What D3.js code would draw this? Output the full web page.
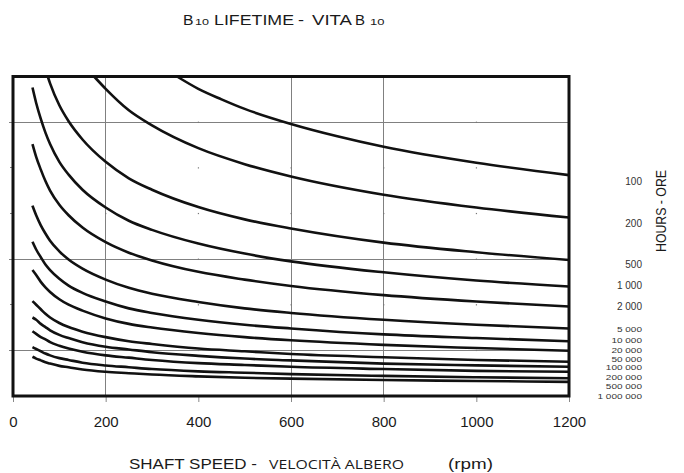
<!DOCTYPE html>
<head>
<meta charset="utf-8">
<title>B10 lifetime</title>
<script src="https://d3js.org/d3.v7.min.js"></script>
<style>
body {
	margin: 0;
	background: #fff;
}
text {
	font-family: "Liberation Sans", Arial, sans-serif;
	fill: #1a1a1a;
}
.grid line {
	stroke: #808080;
	stroke-width: 1;
	shape-rendering: crispEdges;
}
.line {
	fill: none;
	stroke: #111;
	stroke-width: 2.6px;
}
.frame {
	fill: none;
	stroke: #111;
	stroke-width: 3px;
}
.x-axis path {
	display: none;
}
.x-axis line {
	stroke: #888;
}
</style>
</head>
<body>
<svg id="chart" width="684" height="473"></svg>

<script>
// x ticks (rpm) and y grid levels (load, unlabelled in the original)
var speedTicks = [0, 200, 400, 600, 800, 1000, 1200];
var solidSpeeds = [200, 600, 800];
var loadLevels = [1, 2, 3, 4, 5, 6];
var solidLoads = [1, 3, 6];

// curve labels on the right (hours) and where they sit
var hoursLabels = ["100", "200", "500", "1 000", "2 000", "5 000", "10 000", "20 000",
	"50 000", "100 000", "200 000", "500 000", "1 000 000"];
var labelLoad = [4.71, 3.79, 2.88, 2.42, 1.95, 1.45, 1.21, 1.01, 0.80, 0.63, 0.41, 0.22, 0.0];

// the three upper curves leave through the top of the frame
var speeds100 = [354, 400, 450, 500, 600, 700, 800, 1000, 1200];
var load100 = [7.0, 6.73, 6.50, 6.29, 5.96, 5.69, 5.46, 5.11, 4.84];
var speeds200 = [175, 200, 250, 300, 400, 500, 600, 800, 1000, 1200];
var load200 = [7.0, 6.73, 6.26, 5.93, 5.43, 5.08, 4.81, 4.41, 4.13, 3.91];
var speeds500 = [75, 80, 100, 120, 150, 200, 250, 300, 400, 500, 600, 800, 1000, 1200];
var load500 = [7.0, 6.85, 6.37, 6.02, 5.62, 5.13, 4.77, 4.52, 4.14, 3.87, 3.67, 3.36, 3.15, 2.98];

// the others all start at the same low speed
var speeds = [42, 50, 60, 70, 80, 100, 120, 150, 200, 250, 300, 400, 500, 600, 800, 1000, 1200];
var load1000 = [6.76, 6.42, 6.07, 5.77, 5.52, 5.13, 4.85, 4.52, 4.13, 3.84, 3.64, 3.34, 3.12, 2.95, 2.71, 2.53, 2.40];
var load2000 = [5.52, 5.24, 4.96, 4.71, 4.50, 4.19, 3.96, 3.69, 3.37, 3.14, 2.97, 2.72, 2.55, 2.41, 2.21, 2.07, 1.96];
var load5000 = [4.17, 3.96, 3.74, 3.56, 3.40, 3.17, 2.99, 2.79, 2.55, 2.37, 2.24, 2.06, 1.92, 1.82, 1.67, 1.56, 1.48];
var load10000 = [3.38, 3.21, 3.04, 2.88, 2.76, 2.57, 2.42, 2.26, 2.07, 1.92, 1.82, 1.67, 1.56, 1.48, 1.35, 1.27, 1.20];
var load20000 = [2.76, 2.65, 2.50, 2.38, 2.28, 2.12, 2.00, 1.87, 1.70, 1.58, 1.50, 1.38, 1.29, 1.22, 1.12, 1.05, 0.99];
var load50000 = [2.08, 2.00, 1.90, 1.80, 1.72, 1.60, 1.51, 1.41, 1.29, 1.20, 1.14, 1.04, 0.98, 0.92, 0.85, 0.79, 0.75];
var load100000 = [1.72, 1.67, 1.58, 1.51, 1.44, 1.34, 1.27, 1.18, 1.08, 1.02, 0.96, 0.88, 0.82, 0.78, 0.71, 0.67, 0.64];
var load200000 = [1.42, 1.36, 1.29, 1.24, 1.18, 1.10, 1.04, 0.97, 0.89, 0.84, 0.79, 0.72, 0.68, 0.64, 0.59, 0.55, 0.53];
var load500000 = [1.07, 1.03, 0.98, 0.93, 0.89, 0.83, 0.79, 0.73, 0.67, 0.63, 0.59, 0.54, 0.51, 0.48, 0.44, 0.41, 0.39];
var load1000000 = [0.86, 0.82, 0.78, 0.74, 0.71, 0.66, 0.63, 0.58, 0.53, 0.50, 0.47, 0.43, 0.40, 0.38, 0.35, 0.33, 0.31];

var curves = [
	[speeds100, load100], [speeds200, load200], [speeds500, load500],
	[speeds, load1000], [speeds, load2000], [speeds, load5000], [speeds, load10000],
	[speeds, load20000], [speeds, load50000], [speeds, load100000],
	[speeds, load200000], [speeds, load500000], [speeds, load1000000]
];

var svg = d3.select("#chart"),
	margin = {top: 76.5, right: 115, bottom: 77, left: 13},
	width = +svg.attr("width") - margin.left - margin.right,
	height = +svg.attr("height") - margin.top - margin.bottom;

var x = d3.scaleLinear()
	.domain([0, 1200])
	.range([margin.left, margin.left + width]);

var y = d3.scaleLinear()
	.domain([0, 7])
	.range([margin.top + height, margin.top]);

var line = d3.line()
	.x(d => x(d[0]))
	.y(d => y(d[1]))
	.curve(d3.curveMonotoneX);

// grid: some lines drawn through, the rest only as small marks
var grid = svg.append("g").attr("class", "grid");

grid.selectAll(".vgrid")
	.data(solidSpeeds)
	.enter().append("line")
	.attr("x1", d => x(d)).attr("x2", d => x(d))
	.attr("y1", y(7)).attr("y2", y(0));

grid.selectAll(".hgrid")
	.data(solidLoads)
	.enter().append("line")
	.attr("x1", x(0) - 4).attr("x2", x(1200))
	.attr("y1", d => y(d)).attr("y2", d => y(d));

grid.selectAll(".ltick")
	.data(loadLevels.filter(d => solidLoads.indexOf(d) < 0))
	.enter().append("line")
	.attr("x1", x(0) - 3).attr("x2", x(0))
	.attr("y1", d => y(d)).attr("y2", d => y(d));

var marks = [];
speedTicks.slice(1, -1).forEach(function(s) {
	[0].concat(loadLevels, [7]).forEach(function(l) {
		if (solidSpeeds.indexOf(s) < 0 || (solidLoads.indexOf(l) < 0 && l > 0 && l < 7))
			marks.push([s, l]);
	});
});

svg.selectAll(".mark")
	.data(marks)
	.enter().append("rect")
	.attr("x", d => x(d[0]) - 0.5)
	.attr("y", d => y(d[1]) - 0.5)
	.attr("width", 1.2)
	.attr("height", 1.2)
	.style("fill", "#777");

svg.append("g")
	.attr("class", "x-axis")
	.attr("transform", "translate(0," + y(0) + ")")
	.call(d3.axisBottom(x).tickValues(speedTicks).tickFormat(d3.format("d"))
		.tickSize(6).tickPadding(14))
	.selectAll("text")
	.style("font-size", "15px")
	.style("font-family", "'Liberation Sans', Arial, sans-serif")
	.style("fill", "#1a1a1a");

svg.selectAll(".curve")
	.data(curves)
	.enter().append("path")
	.attr("class", "line")
	.attr("d", c => line(c[0].map((s, i) => [s, c[1][i]])));

svg.append("rect")
	.attr("class", "frame")
	.attr("x", x(0))
	.attr("y", y(7))
	.attr("width", x(1200) - x(0))
	.attr("height", y(0) - y(7));

// hours labels: the lower ones are squeezed vertically, as in the original
svg.selectAll(".hlabel")
	.data(hoursLabels)
	.enter().append("text")
	.attr("x", 642)
	.attr("y", (d, i) => y(labelLoad[i]))
	.attr("dy", "0.35em")
	.attr("text-anchor", "end")
	.style("font-size", (d, i) => i < 5 ? "10px" : "7.5px")
	.style("fill", "#333")
	.text(d => d)
	.each(function(d, i) {
		if (i >= 5) {
			var w = this.getComputedTextLength() * 10 / 7.5;
			d3.select(this).attr("textLength", w).attr("lengthAdjust", "spacingAndGlyphs");
		}
	});

svg.append("text")
	.attr("transform", "translate(661,211) rotate(-90)")
	.attr("text-anchor", "middle")
	.attr("dy", "0.35em")
	.attr("textLength", 82)
	.attr("lengthAdjust", "spacingAndGlyphs")
	.style("font-size", "14px")
	.text("HOURS - ORE");

// title, pieces placed one by one as in the original
var title = [
	{t: "B", x: 183, s: 15, w: 10.5},
	{t: "10", x: 195, s: 9.5, w: 14},
	{t: "LIFETIME", x: 214, s: 15, w: 80},
	{t: "-", x: 298, s: 15, w: 6},
	{t: "VITA", x: 312, s: 14, w: 40},
	{t: "B", x: 355, s: 14, w: 10},
	{t: "10", x: 370, s: 9.5, w: 14.5}
];
svg.selectAll(".title")
	.data(title)
	.enter().append("text")
	.attr("x", d => d.x)
	.attr("y", 25)
	.attr("textLength", d => d.w)
	.attr("lengthAdjust", "spacingAndGlyphs")
	.style("font-size", d => d.s + "px")
	.text(d => d.t);

var xtitle = [
	{t: "SHAFT SPEED -", x: 129, s: 15, w: 128, f: "'Liberation Sans', Arial, sans-serif"},
	{t: "VELOCITÀ ALBERO", x: 269, s: 13, w: 135, f: "'Open Sans', sans-serif"},
	{t: "(rpm)", x: 448, s: 15, w: 45, f: "'Liberation Sans', Arial, sans-serif"}
];
svg.selectAll(".xtitle")
	.data(xtitle)
	.enter().append("text")
	.attr("x", d => d.x)
	.attr("y", 469)
	.attr("textLength", d => d.w)
	.attr("lengthAdjust", "spacingAndGlyphs")
	.style("font-size", d => d.s + "px")
	.style("font-family", d => d.f)
	.text(d => d.t);
</script>
</body>
</html>
